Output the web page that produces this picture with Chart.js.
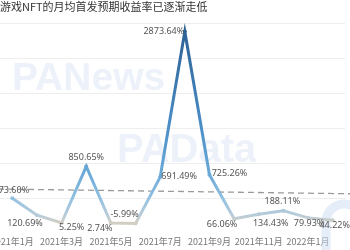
<!DOCTYPE html>
<html>
<head>
<meta charset="utf-8">
<script src="https://cdn.jsdelivr.net/npm/chart.js@4.4.0/dist/chart.umd.min.js"></script>
<style>
  html, body { margin: 0; padding: 0; background: #fff; }
  #wrap { position: relative; width: 350px; height: 250px; overflow: hidden; }
  #box { position: absolute; left: -20px; top: 0; width: 370px; height: 250px; }
</style>
</head>
<body>
<div id="wrap"><div id="box"><canvas id="yieldChart"></canvas></div></div>
<script>
/* ===== DATA ===== */
const months = [
  "2021年1月","2021年2月","2021年3月","2021年4月","2021年5月","2021年6月","2021年7月",
  "2021年8月","2021年9月","2021年10月","2021年11月","2021年12月","2022年1月","2022年2月"
];
const yieldRates = [373.60, 120.69, 5.25, 850.65, 2.74, -5.99, 691.49, 2873.64, 725.26, 66.06, 134.43, 188.11, 79.93, 44.22];
// trend line read at first and last month
const trendStart = 510;
const trendEnd = 445;

const titleText = "游戏NFT的月均首发预期收益率已逐渐走低";

// where each value label sits, relative to its point
const labelOffsets = [
  [-1, -8], [-12, 8], [10, 5], [0, -9], [-11, 5], [-11, -9], [19, -1],
  [-21, 0], [20, -1], [-12, 6], [12, 9], [-1, -9], [1, 6], [2, 5]
];

function lineGradient(chart) {
  const area = chart.chartArea;
  const y = chart.scales.y;
  if (!area || !y) return "#6aaad6";
  const y0 = y.getPixelForValue(0);
  const y1 = y.getPixelForValue(3000);
  const g = chart.ctx.createLinearGradient(0, y0, 0, y1);
  g.addColorStop(0, "#d3cec3");
  g.addColorStop(0.04, "#b8ccd8");
  g.addColorStop(0.12, "#94c1e0");
  g.addColorStop(0.25, "#69a9d8");
  g.addColorStop(0.5, "#4a8cc4");
  g.addColorStop(1, "#2a5e92");
  return g;
}

/* ===== WATERMARK + TREND LINE ===== */
const backdrop = {
  id: "backdrop",
  beforeDatasetsDraw(chart) {
    const ctx = chart.ctx;
    const area = chart.chartArea;
    ctx.save();
    ctx.fillStyle = "rgba(214,226,244,0.45)";
    ctx.font = "bold 39px 'Liberation Sans', Arial, sans-serif";
    ctx.textBaseline = "alphabetic";
    ctx.fillText("PANews", 32, 90);
    ctx.font = "bold 40px 'Liberation Sans', Arial, sans-serif";
    ctx.fillText("PAData", 137, 162);

    // arch logo bottom right
    ctx.strokeStyle = "rgba(205,222,242,0.55)";
    ctx.lineWidth = 9;
    ctx.beginPath();
    ctx.moveTo(346, 252);
    ctx.lineTo(346, 222);
    ctx.arc(364, 222, 18, Math.PI, 0);
    ctx.lineTo(382, 252);
    ctx.stroke();

    // dashed trend line extended to the edges
    const x = chart.scales.x;
    const y = chart.scales.y;
    const xa = x.getPixelForValue(0), xb = x.getPixelForValue(months.length - 1);
    const ya = y.getPixelForValue(trendStart), yb = y.getPixelForValue(trendEnd);
    const slope = (yb - ya) / (xb - xa);
    const left = area.left - 2, right = chart.width;
    ctx.strokeStyle = "#9a9a9a";
    ctx.lineWidth = 1.3;
    ctx.setLineDash([6, 4]);
    ctx.beginPath();
    ctx.moveTo(left, ya + (left - xa) * slope);
    ctx.lineTo(right, ya + (right - xa) * slope);
    ctx.stroke();
    ctx.restore();
  }
};

/* ===== VALUE LABELS ===== */
const valueLabels = {
  id: "valueLabels",
  afterDatasetsDraw(chart) {
    const ctx = chart.ctx;
    const meta = chart.getDatasetMeta(0);
    ctx.save();
    ctx.font = "9px 'Noto Sans', sans-serif";
    ctx.fillStyle = "#555";
    ctx.textAlign = "center";
    ctx.textBaseline = "middle";
    meta.data.forEach((pt, i) => {
      const off = labelOffsets[i];
      ctx.fillText(yieldRates[i].toFixed(2) + "%", pt.x + off[0], pt.y + off[1]);
    });
    ctx.restore();
  }
};

new Chart(document.getElementById("yieldChart"), {
  type: "line",
  data: {
    labels: months,
    datasets: [{
      label: "月均首发预期收益率",
      data: yieldRates,
      borderColor: ctx => lineGradient(ctx.chart),
      pointBackgroundColor: ctx => lineGradient(ctx.chart),
      pointBorderWidth: 0,
      pointRadius: 2,
      borderWidth: 3,
      tension: 0
    }]
  },
  options: {
    responsive: true,
    maintainAspectRatio: false,
    animation: false,
    layout: { padding: { left: 20, right: 5, top: 0, bottom: 0 } },
    plugins: {
      legend: { display: false },
      tooltip: { enabled: false },
      title: {
        display: true,
        text: titleText,
        align: "start",
        color: "#333",
        font: { size: 11, family: "'Noto Sans CJK SC', sans-serif", weight: "normal" },
        padding: { top: 0, bottom: 10 }
      }
    },
    scales: {
      x: {
        offset: true,
        grid: { display: false, drawTicks: false },
        border: { display: false },
        ticks: {
          autoSkip: false,
          maxRotation: 0,
          padding: 3,
          color: "#777",
          font: { size: 9, family: "'Noto Sans CJK SC', sans-serif" },
          callback: (v, i) => (i % 2 === 0 ? months[i] : "")
        }
      },
      y: {
        display: true,
        min: -150,
        max: 3000,
        ticks: { display: false, stepSize: 500 },
        border: { display: false },
        grid: {
          drawTicks: false,
          color: ctx => (ctx.tick && ctx.tick.value >= 0 ? "#eeeeee" : "rgba(0,0,0,0)")
        }
      }
    }
  },
  plugins: [backdrop, valueLabels]
});
</script>
</body>
</html>
